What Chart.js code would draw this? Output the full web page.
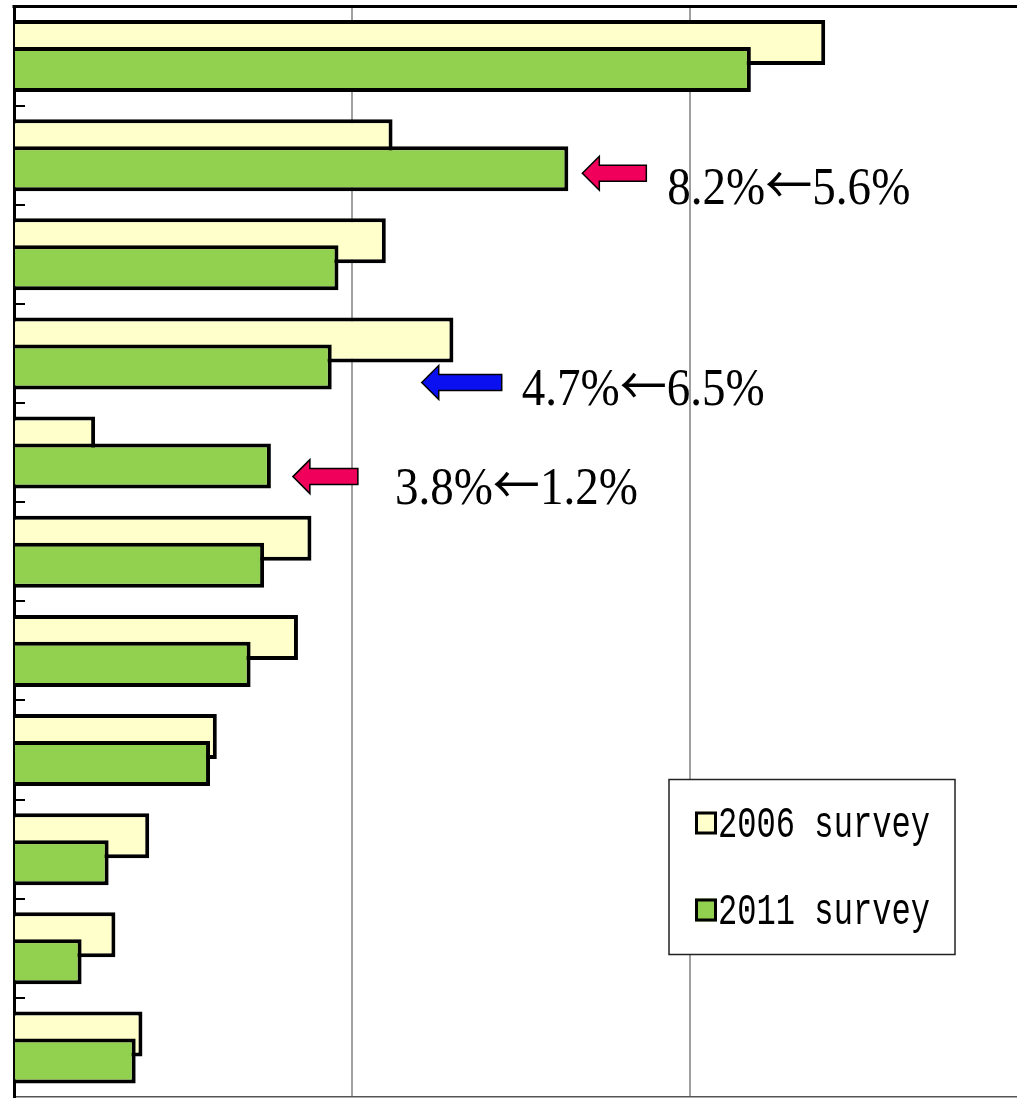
<!DOCTYPE html>
<html lang="en">
<head>
  <meta charset="UTF-8">
  <script src="https://cdn.jsdelivr.net/npm/chart.js"></script>
  <title>Survey</title>
  <style>
    html, body { margin: 0; padding: 0; overflow: hidden; background: #fff; }
    #wrap { position: relative; width: 1030px; height: 1099px; }
  </style>
</head>
<body>
<div id="wrap"><canvas id="grafico"></canvas></div>
<script>
  // category names are cropped out of the picture, so they stay hidden
  var categorias = ['1', '2', '3', '4', '5', '6', '7', '8', '9', '10', '11']
  var valores2006 = [12.0, 5.6, 5.5, 6.5, 1.2, 4.4, 4.2, 3.0, 2.0, 1.5, 1.9]
  var valores2011 = [10.9, 8.2, 4.8, 4.7, 3.8, 3.7, 3.5, 2.9, 1.4, 1.0, 1.8]
  var series = ['2006 survey', '2011 survey']
  var ticksX = [0, 5, 10, 15]

  // notes: which category, the two parts of the text, arrow colour
  var notas = [
    { cat: 1, antes: '8.2%', depois: '5.6%', cor: '#f0005a' },
    { cat: 3, antes: '4.7%', depois: '6.5%', cor: '#0a10f0' },
    { cat: 4, antes: '3.8%', depois: '1.2%', cor: '#f0005a' }
  ]
  // placement of each note (px from the 2011 bar end / category centre)
  var layoutNotas = [
    { dx: 14, dy: 18, len: 64, gap: 21, base: 49 },
    { dx: 90, dy: 29, len: 80, gap: 20, base: 52 },
    { dx: 22, dy: 24, len: 65, gap: 37, base: 51 }
  ]

  function desenharSeta(ctx, x, y, len, cor) {
    var cab = 17, meiaCab = 17, meiaHaste = 8
    ctx.beginPath()
    ctx.moveTo(x, y)
    ctx.lineTo(x + cab, y - meiaCab)
    ctx.lineTo(x + cab, y - meiaHaste)
    ctx.lineTo(x + len, y - meiaHaste)
    ctx.lineTo(x + len, y + meiaHaste)
    ctx.lineTo(x + cab, y + meiaHaste)
    ctx.lineTo(x + cab, y + meiaCab)
    ctx.closePath()
    ctx.fillStyle = cor
    ctx.fill()
    ctx.lineWidth = 1.5
    ctx.strokeStyle = '#000'
    ctx.stroke()
  }

  // draws "a ← b", condensed to the given width
  function textoNota(ctx, nota, x, y, largura) {
    var fonteNum = '52px "Liberation Serif"'
    var fonteSeta = '52px "Noto Sans CJK JP"'
    ctx.font = fonteNum
    var w1 = ctx.measureText(nota.antes).width
    var w3 = ctx.measureText(nota.depois).width
    ctx.font = fonteSeta
    var w2 = ctx.measureText('\u2190').width
    ctx.save()
    ctx.translate(x, y)
    ctx.scale(largura / (w1 + w2 + w3), 1)
    ctx.textAlign = 'left'
    ctx.textBaseline = 'alphabetic'
    ctx.fillStyle = '#000'
    ctx.font = fonteNum
    ctx.fillText(nota.antes, 0, 0)
    ctx.font = fonteSeta
    ctx.fillText('\u2190', w1, 0)
    ctx.font = fonteNum
    ctx.fillText(nota.depois, w1 + w2, 0)
    ctx.restore()
  }

  function textoComprimido(ctx, texto, x, y, fonte, largura) {
    ctx.font = fonte
    var w = ctx.measureText(texto).width
    ctx.save()
    ctx.translate(x, y)
    ctx.scale(largura / w, 1)
    ctx.textAlign = 'left'
    ctx.textBaseline = 'alphabetic'
    ctx.fillStyle = '#000'
    ctx.fillText(texto, 0, 0)
    ctx.restore()
  }

  const extras = {
    id: 'extras',
    // draw 2006 first so the 2011 bar lies over it
    beforeDatasetsDraw(chart) {
      for (var i = 0; i < chart.data.datasets.length; i++) {
        chart.getDatasetMeta(i).controller.draw()
      }
      return false
    },
    afterDraw(chart) {
      const ctx = chart.ctx
      const area = chart.chartArea
      const xs = chart.scales.x
      const ys = chart.scales.y
      ctx.save()

      // top border of the plot area
      ctx.strokeStyle = '#000'
      ctx.lineWidth = 3
      ctx.beginPath()
      ctx.moveTo(area.left - 1.5, area.top)
      ctx.lineTo(area.right, area.top)
      ctx.stroke()

      // short inward tick marks between categories
      ctx.lineWidth = 2
      for (var i = 1; i < categorias.length; i++) {
        var yy = Math.round((ys.getPixelForValue(i - 1) + ys.getPixelForValue(i)) / 2)
        ctx.beginPath()
        ctx.moveTo(area.left, yy)
        ctx.lineTo(area.left + 11, yy)
        ctx.stroke()
      }

      // arrows and notes
      for (var n = 0; n < notas.length; n++) {
        var nota = notas[n]
        var lay = layoutNotas[n]
        var xFim = xs.getPixelForValue(valores2011[nota.cat])
        var yc = ys.getPixelForValue(nota.cat)
        var xSeta = xFim + lay.dx
        desenharSeta(ctx, xSeta, yc + lay.dy, lay.len, nota.cor)
        textoNota(ctx, nota, xSeta + lay.len + lay.gap, yc + lay.base, 243)
      }

      // legend box inside the plot
      var lx = area.left + 655, ly = area.top + 773, lw = 286, lh = 175
      ctx.fillStyle = '#fff'
      ctx.fillRect(lx, ly, lw, lh)
      ctx.strokeStyle = '#222'
      ctx.lineWidth = 1.5
      ctx.strokeRect(lx, ly, lw, lh)
      var ds = chart.data.datasets
      for (var k = 0; k < ds.length; k++) {
        var sy = ly + 32 + k * 87
        ctx.fillStyle = ds[k].backgroundColor
        ctx.fillRect(lx + 26, sy, 22, 23)
        ctx.strokeStyle = '#000'
        ctx.lineWidth = 3
        ctx.strokeRect(lx + 27.5, sy + 1.5, 19, 20)
        textoComprimido(ctx, ds[k].label, lx + 49, sy + 25, '44px "Liberation Mono"', 212)
      }
      ctx.restore()
    }
  }

  const ctx = document.getElementById('grafico')
  let grafico = new Chart(ctx, {
    type: 'bar',
    data: {
      labels: categorias,
      datasets: [{
        label: series[0],
        data: valores2006,
        backgroundColor: '#ffffcc',
        borderColor: '#000',
        borderWidth: 4,
        borderSkipped: 'start',
        categoryPercentage: 0.544,
        barPercentage: 1.67
      }, {
        label: series[1],
        data: valores2011,
        backgroundColor: '#92d050',
        borderColor: '#000',
        borderWidth: 4,
        borderSkipped: 'start',
        categoryPercentage: 0.544,
        barPercentage: 1.67
      }]
    },
    options: {
      indexAxis: 'y',
      responsive: true,
      maintainAspectRatio: false,
      animation: false,
      layout: { padding: { top: 6.5, left: 14, right: 2, bottom: 2 } },
      plugins: {
        legend: { display: false },
        tooltip: { enabled: false }
      },
      scales: {
        x: {
          min: 0,
          max: 15,
          afterBuildTicks: (axis) => { axis.ticks = ticksX.map(v => ({ value: v })) },
          ticks: { display: false },
          grid: { color: '#a0a0a0', lineWidth: 2, drawTicks: false },
          border: { display: true, color: '#555', width: 1.5 }
        },
        y: {
          z: 1,
          ticks: { display: false },
          grid: { display: false, drawTicks: false },
          border: { display: true, color: '#000', width: 3 }
        }
      }
    },
    plugins: [extras]
  })
</script>
</body>
</html>
